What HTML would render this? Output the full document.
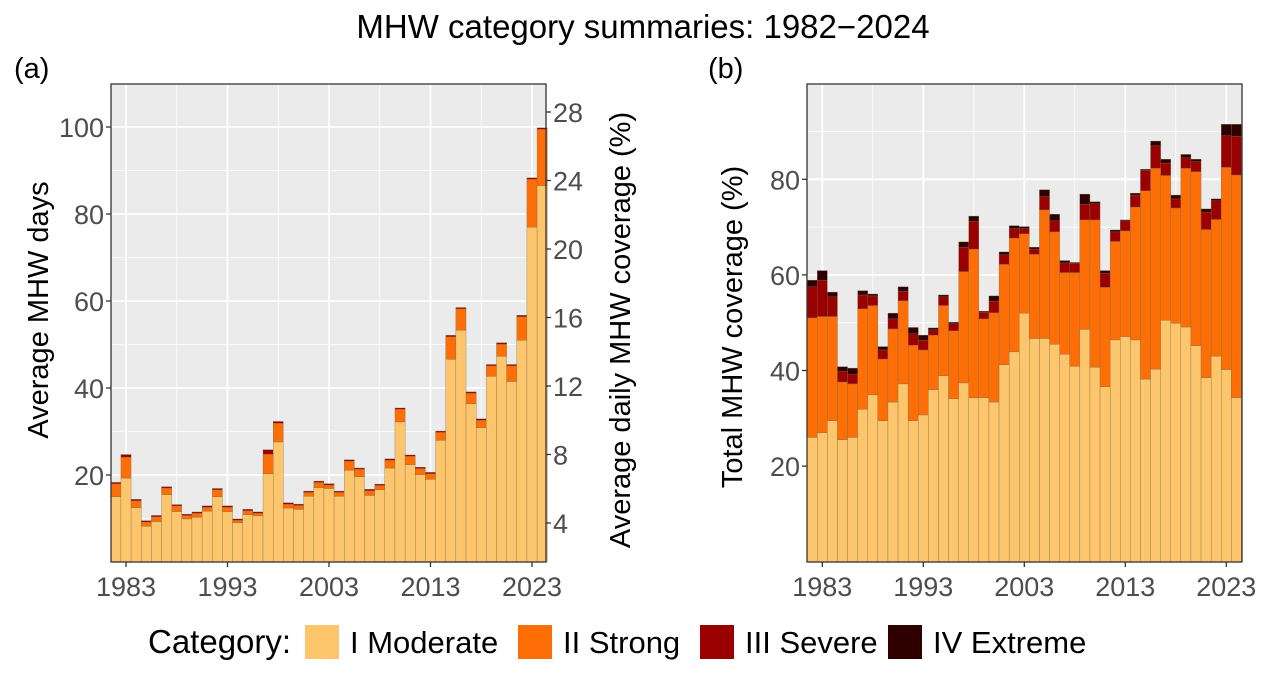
<!DOCTYPE html>
<html><head><meta charset="utf-8"><style>
body{margin:0;background:#fff;}
svg{display:block;font-family:"Liberation Sans",sans-serif;}
</style></head><body>
<svg id="chart" width="1286" height="690" viewBox="0 0 1286 690">
<text x="643" y="38" text-anchor="middle" font-size="33">MHW category summaries: 1982−2024</text>
<text x="14" y="78" font-size="29">(a)</text>
<text x="708" y="78" font-size="29">(b)</text>
<g id="pa"></g>
<g id="pb"></g>
<text transform="translate(48,310) rotate(-90)" text-anchor="middle" font-size="29">Average MHW days</text>
<text transform="translate(630,330) rotate(-90)" text-anchor="middle" font-size="29">Average daily MHW coverage (%)</text>
<text transform="translate(742,327) rotate(-90)" text-anchor="middle" font-size="29">Total MHW coverage (%)</text>
<g>
<text x="148" y="653" font-size="33">Category:</text>
<rect x="305" y="625" width="34" height="34" fill="#FEC66C"/>
<text x="350" y="653" font-size="31">I Moderate</text>
<rect x="518" y="625" width="34" height="34" fill="#FE6E06"/>
<text x="563" y="653" font-size="31">II Strong</text>
<rect x="700" y="625" width="34" height="34" fill="#9A0000"/>
<text x="745" y="653" font-size="31">III Severe</text>
<rect x="888" y="625" width="34" height="34" fill="#2E0000"/>
<text x="933" y="653" font-size="31">IV Extreme</text>
</g>
</svg>
<script>
const years=[];for(let y=1982;y<=2024;y++)years.push(y);
const xTicks=[1983,1993,2003,2013,2023];
const aTicks=[20,40,60,80,100];
const aRightTicks=[4,8,12,16,20,24,28];
const bTicks=[20,40,60,80];
const aMod=[15.0,19.3,12.5,8.2,9.3,15.5,11.6,9.9,10.3,11.7,15.0,11.6,9.0,10.9,10.6,20.3,27.6,12.4,12.1,15.1,17.1,16.9,15.1,21.1,19.6,15.3,16.6,21.6,32.2,22.4,20.1,19.0,28.0,46.6,53.3,36.4,30.9,42.7,47.3,41.5,51.0,77.0,86.5];
const aStr=[3.0,4.8,1.6,1.0,1.1,1.5,1.3,0.8,0.9,0.9,1.6,1.0,0.6,0.9,0.6,4.5,4.3,0.9,0.9,0.9,1.2,0.8,0.9,2.1,1.7,1.1,1.0,1.8,2.9,1.9,1.4,1.3,1.8,5.2,4.9,2.4,1.7,2.4,2.8,3.6,5.4,11.0,13.0];
const aSev=[0.3,0.6,0.3,0.3,0.3,0.3,0.3,0.3,0.3,0.3,0.3,0.3,0.3,0.3,0.3,1.0,0.4,0.3,0.3,0.3,0.3,0.3,0.3,0.3,0.3,0.3,0.3,0.3,0.3,0.3,0.3,0.3,0.3,0.3,0.3,0.3,0.3,0.3,0.3,0.3,0.3,0.3,0.3];
const bMod=[26,27,29.5,25.5,26,31.9,34.9,29.5,33.4,37.2,29.5,30.7,36.0,38.9,34.1,37.4,34.3,34.3,33.4,41.2,43.9,52.0,46.7,46.7,45.5,43.4,40.9,48.6,40.7,36.6,46.4,47.1,46.4,38.2,40.3,50.5,49.9,49.1,45.2,38.5,43.0,40.2,34.3];
const bStr=[25,24.3,21.8,12.1,11.2,21.0,18.7,12.9,15.3,17.4,15.8,13.6,11.4,14.7,14.2,23.3,31.1,16.5,18.7,21.0,23.8,16.6,17.6,26.9,23.5,17.1,19.6,22.9,30.8,20.8,20.6,22.1,27.8,39.4,42.0,30.3,24.1,33.2,36.4,31.0,28.6,42.3,46.6];
const bSev=[6.5,7.6,4.1,2.2,2.0,2.9,2.0,1.9,2.1,2.0,2.4,2.0,1.1,1.8,1.5,5.1,5.8,1.4,2.4,2.0,2.0,1.1,1.1,2.8,2.3,2.0,1.9,3.3,3.4,2.9,2.0,2.1,2.5,4.3,4.7,2.6,1.9,2.2,2.1,3.6,3.9,6.6,8.1];
const bExt=[1.4,2.0,1.0,1.0,1.3,0.9,0.4,0.7,1.2,0.9,1.3,1.1,0.4,0.4,0.3,1.1,1.1,0.2,1.1,0.6,0.6,0.4,0.4,1.4,1.4,0.5,0.2,2.1,0.4,0.6,0.4,0.2,0.4,0.2,1.0,0.8,0.8,0.7,0.5,0.7,0.4,2.4,2.5];
const colors=["#FEC66C","#FE6E06","#9A0000","#2E0000"];
const catNames=["moderate","strong","severe","extreme"];
const NS="http://www.w3.org/2000/svg";
function mk(p,tag,at){const e=document.createElementNS(NS,tag);for(const k in at)e.setAttribute(k,at[k]);p.appendChild(e);return e;}
function panel(g,cfg){
  const {L,R,T,B,x0,xs,y0,ys,yMax,series,ticks,pre}=cfg;
  const X=y=>x0+(y-1983)*xs, Y=v=>y0-v*ys;
  const bg=mk(g,'rect',{x:L,y:T,width:R-L,height:B-T,fill:'#EBEBEB'});
  
  
  for(let v=10;v<yMax;v+=20){const l=mk(g,'line',{x1:L,x2:R,y1:Y(v),y2:Y(v),stroke:'#fff','stroke-width':0.8});}
  ticks.forEach(v=>{const l=mk(g,'line',{x1:L,x2:R,y1:Y(v),y2:Y(v),stroke:'#fff','stroke-width':1.8});});
  [1988,1998,2008,2018].forEach(t=>{const l=mk(g,'line',{x1:X(t),x2:X(t),y1:T,y2:B,stroke:'#fff','stroke-width':0.8});});
  xTicks.forEach(t=>{const l=mk(g,'line',{x1:X(t),x2:X(t),y1:T,y2:B,stroke:'#fff','stroke-width':1.8});});
  years.forEach((yr,i)=>{let acc=0;series.forEach((s,k)=>{const v=s[i];if(v<=0)return;
    const r=mk(g,'rect',{x:X(yr)-xs/2,y:Y(acc+v),width:xs,height:v*ys,fill:colors[k],stroke:'#7a6a50','stroke-width':0.35});
    
    acc+=v;});});
  const fr=mk(g,'rect',{x:L,y:T,width:R-L,height:B-T,fill:'none',stroke:'#333','stroke-width':1.3});
  
  
  ticks.forEach(v=>{mk(g,'line',{x1:L-5,x2:L,y1:Y(v),y2:Y(v),stroke:'#333','stroke-width':1.3});
    const t=mk(g,'text',{x:L-7,y:Y(v)+10,'text-anchor':'end','font-size':27,fill:'#4D4D4D'});t.textContent=v;
    
    });
  xTicks.forEach(v=>{mk(g,'line',{x1:X(v),x2:X(v),y1:B,y2:B+5,stroke:'#333','stroke-width':1.3});
    const t=mk(g,'text',{x:X(v),y:B+34,'text-anchor':'middle','font-size':27,fill:'#4D4D4D'});t.textContent=v;
    
    });
  return {X,Y};
}
const ga=document.getElementById('pa'), gb=document.getElementById('pb');
panel(ga,{L:111,R:546,T:84,B:562,x0:126,xs:10.15,y0:562,ys:4.35,yMax:110,series:[aMod,aStr,aSev],ticks:aTicks,pre:'panel-a'});
const rY=v=>591.5-v*17.125;
aRightTicks.forEach(v=>{mk(ga,'line',{x1:546,x2:551,y1:rY(v),y2:rY(v),stroke:'#333','stroke-width':1.3});
  const t=mk(ga,'text',{x:553,y:rY(v)+10,'font-size':27,fill:'#4D4D4D'});t.textContent=v;
  
  });
panel(gb,{L:807,R:1242,T:84,B:562,x0:822.3,xs:10.1,y0:561.7,ys:4.78,yMax:100,series:[bMod,bStr,bSev,bExt],ticks:bTicks,pre:'panel-b'});
</script>
</body></html>
